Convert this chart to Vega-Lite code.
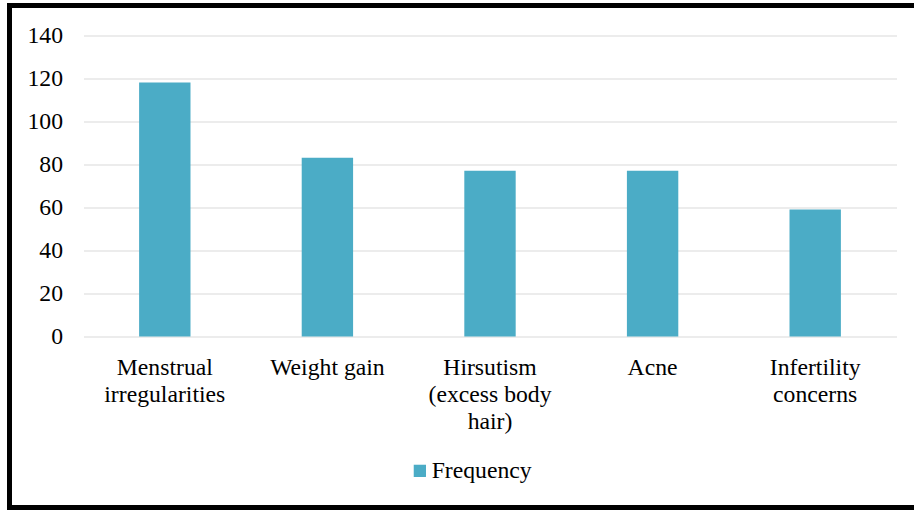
{
  "$schema": "https://vega.github.io/schema/vega-lite/v6.json",
  "autosize": "none",
  "width": 909.5,
  "height": 502,
  "padding": {"left": 9.5, "top": 5.5, "right": -5, "bottom": 2.5},
  "background": "white",
  "config": {
    "view": {"stroke": "black", "strokeWidth": 5},
    "font": "'Times New Roman', 'Liberation Serif', serif"
  },
  "data": {
    "values": [
      {"symptom": "Menstrual irregularities", "frequency": 118},
      {"symptom": "Weight gain", "frequency": 83},
      {"symptom": "Hirsutism (excess body hair)", "frequency": 77},
      {"symptom": "Acne", "frequency": 77},
      {"symptom": "Infertility concerns", "frequency": 59}
    ]
  },
  "mark": {"type": "bar", "color": "#4BACC6"},
  "encoding": {
    "x": {
      "field": "symptom",
      "type": "nominal",
      "sort": null,
      "scale": {"range": [74, 887], "paddingInner": 0.684, "paddingOuter": 0.342},
      "axis": {
        "title": null,
        "domain": false,
        "ticks": false,
        "tickSize": 0,
        "offset": -171,
        "labelPadding": 18.5,
        "labelAngle": 0,
        "labelFont": "'Times New Roman', 'Liberation Serif', serif",
        "labelFontSize": 23.7,
        "labelColor": "black",
        "labelLineHeight": 27,
        "labelLimit": 300,
        "labelExpr": "datum.value == 'Menstrual irregularities' ? ['Menstrual', 'irregularities'] : datum.value == 'Hirsutism (excess body hair)' ? ['Hirsutism', '(excess body', 'hair)'] : datum.value == 'Infertility concerns' ? ['Infertility', 'concerns'] : datum.value"
      }
    },
    "y": {
      "field": "frequency",
      "type": "quantitative",
      "scale": {"domain": [0, 140], "range": [331, 29.5], "nice": false},
      "axis": {
        "title": null,
        "values": [0, 20, 40, 60, 80, 100, 120, 140],
        "domain": false,
        "ticks": false,
        "tickSize": 0,
        "offset": -55,
        "labelPadding": 2,
        "labelFont": "'Times New Roman', 'Liberation Serif', serif",
        "labelFontSize": 23.7,
        "labelColor": "black",
        "grid": true,
        "gridColor": "#d9d9d9",
        "gridWidth": 1.2
      }
    },
    "color": {
      "datum": "Frequency",
      "type": "nominal",
      "scale": {"range": ["#4BACC6"]},
      "legend": {
        "title": null,
        "orient": "none",
        "legendX": 398.5,
        "legendY": 453.5,
        "symbolType": "square",
        "symbolSize": 150,
        "symbolStrokeWidth": 0,
        "labelFont": "'Times New Roman', 'Liberation Serif', serif",
        "labelFontSize": 23.7,
        "labelColor": "black",
        "labelOffset": 0
      }
    }
  }
}
